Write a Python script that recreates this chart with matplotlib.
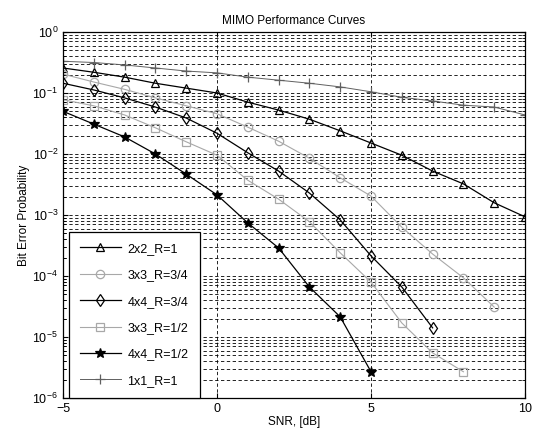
import numpy as np
import matplotlib
matplotlib.use("Agg")
import matplotlib.pyplot as plt

plt.rcParams['font.family'] = ['Liberation Sans', 'DejaVu Sans']

snr = np.arange(-5, 11)

# log10 of bit error probability
ber_2x2_r1 = [-0.59, -0.66, -0.74, -0.84, -0.92, -1.00, -1.15, -1.28, -1.43,
              -1.62, -1.82, -2.02, -2.28, -2.49, -2.80, -3.03]
ber_3x3_r34 = [-0.69, -0.82, -0.94, -1.08, -1.21, -1.34, -1.56, -1.79, -2.07,
               -2.39, -2.69, -3.20, -3.64, -4.03, -4.51]
ber_4x4_r34 = [-0.84, -0.95, -1.08, -1.23, -1.41, -1.66, -1.98, -2.28, -2.64,
               -3.08, -3.67, -4.18, -4.85]
ber_3x3_r12 = [-1.11, -1.21, -1.36, -1.57, -1.80, -2.02, -2.43, -2.74, -3.11,
               -3.62, -4.10, -4.77, -5.26, -5.57]
ber_4x4_r12 = [-1.30, -1.51, -1.72, -2.00, -2.33, -2.67, -3.13, -3.54, -4.18,
               -4.67, -5.57]
ber_1x1_r1 = [-0.48, -0.50, -0.54, -0.59, -0.64, -0.67, -0.74, -0.79, -0.84,
              -0.90, -0.98, -1.07, -1.13, -1.20, -1.23, -1.36]

fig = plt.figure(figsize=(5.36, 4.36), dpi=100)
ax = fig.add_axes([0.1175, 0.0872, 0.862, 0.8394])

gray = '#a8a8a8'
series = [
    (ber_2x2_r1, '2x2_R=1', 'k', '^', 0.9, 6),
    (ber_3x3_r34, '3x3_R=3/4', gray, 'o', 0.8, 6),
    (ber_4x4_r34, '4x4_R=3/4', 'k', 'd', 0.9, 6),
    (ber_3x3_r12, '3x3_R=1/2', gray, 's', 0.8, 6),
    (ber_4x4_r12, '4x4_R=1/2', 'k', '*', 0.9, 7),
    (ber_1x1_r1, '1x1_R=1', '#606060', '+', 0.7, 7),
]
for vals, lab, col, mk, lw, ms in series:
    x = snr[:len(vals)]
    y = 10.0 ** np.array(vals)
    mfc = col if mk in ('*', '+') else 'none'
    ax.semilogy(x, y, color=col, marker=mk, mfc=mfc, mec=col, ms=ms,
                lw=lw, mew=0.9, label=lab)

ax.set_xlim(-5, 10)
ax.set_ylim(1e-6, 1)
ax.set_xticks([-5, 0, 5, 10])
ax.grid(True, which='major', color='k', ls=(0, (4, 3)), lw=0.6)
ax.grid(True, which='minor', axis='y', color='k', ls=(0, (4, 3)), lw=0.6)
ax.tick_params(which='both', direction='in', top=True, right=True, labelsize=9)
for s in ax.spines.values():
    s.set_linewidth(0.9)

ax.set_title('MIMO Performance Curves', fontsize=8.5, pad=6)
ax.set_xlabel('SNR, [dB]', fontsize=8.5, labelpad=1)
ax.set_ylabel('Bit Error Probability', fontsize=8.5, labelpad=2)

leg = ax.legend(loc='lower left', bbox_to_anchor=(0.012, 0.0), fontsize=9,
                handlelength=3.3, handletextpad=0.5, fancybox=False,
                framealpha=1, edgecolor='k', borderaxespad=0.0,
                labelspacing=1.15, borderpad=0.9)
leg.get_frame().set_linewidth(0.9)

fig.savefig('out.png', dpi=100)
